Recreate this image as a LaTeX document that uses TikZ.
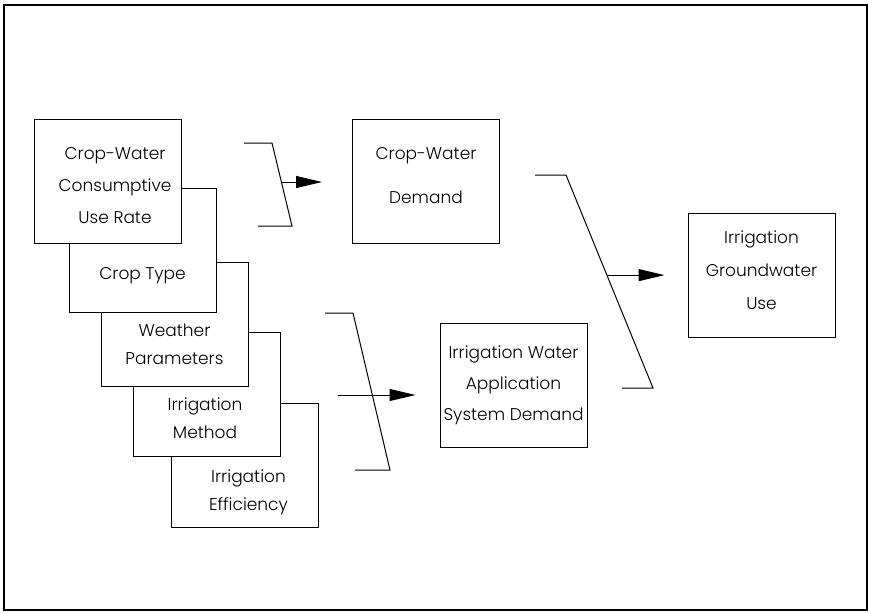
\documentclass[tikz,border=0pt]{standalone}
\usepackage{fontspec}
\setmainfont{Poppins Light}
\usetikzlibrary{arrows.meta}

\begin{document}
\begin{tikzpicture}[
    x=0.5pt, y=-0.5pt,
    card/.style={rectangle, draw, fill=white, line width=0.5pt, minimum width=73.5pt, minimum height=62pt, inner sep=0pt, align=center, font=\fontsize{8.5}{15.5}\selectfont},
    cardtext/.style={align=center, font=\fontsize{8.5}{14}\selectfont},
    bracket/.style={line width=0.5pt},
    arrow/.style={-{Triangle[length=13pt, width=6pt]}, line width=0.5pt},
    frame/.style={line width=1.4pt}
]
\useasboundingbox (0,0) rectangle (869,612);
\draw[frame] (4,5) rectangle (867,610);
% stacked input cards, back to front
\node[card, label={[cardtext, xshift=2pt, yshift=-13.5pt]center:Irrigation\\Efficiency}] (effic) at (244.5,465.5) {};
\node[card, label={[cardtext, xshift=-1pt, yshift=-12pt]center:Irrigation\\Method}] (method) at (207,394) {};
\node[card, label={[cardtext, yshift=-10pt]center:Weather\\Parameters}] (weather) at (174.5,324) {};
\node[card, label={[cardtext, yshift=-12.75pt]center:Crop Type}] (croptype) at (142.5,250.5) {};
\node[card, font=\fontsize{8.5}{16}\selectfont, label={[cardtext, font=\fontsize{8.5}{16}\selectfont, xshift=3.5pt, yshift=-2pt]center:Crop-Water\\Consumptive\\Use Rate}] (userate) at (108,181.5) {};
% demand and result cards
\node[card, label={[cardtext, font=\fontsize{8.5}{22}\selectfont, yshift=2.5pt]center:Crop-Water\\Demand}] (cwdemand) at (426,181) {};
\node[card] (iwdemand) at (513.5,385) {Irrigation Water\\Application\\System Demand};
\node[card, label={[cardtext, font=\fontsize{8.5}{16.5}\selectfont, yshift=2.5pt]center:Irrigation\\Groundwater\\Use}] (gwuse) at (761.5,275) {};
% brackets
\coordinate (b1a) at (244,143);\coordinate (b1b) at (272,143);
\coordinate (b1c) at (292,226);\coordinate (b1d) at (258,226);
\draw[bracket] (b1a) -- (b1b) -- (b1c) coordinate[pos=0.47] (b1m) -- (b1d);
\coordinate (b2a) at (325,313);\coordinate (b2b) at (353,313);
\coordinate (b2c) at (390,470);\coordinate (b2d) at (355,470);
\draw[bracket] (b2a) -- (b2b) -- (b2c) -- (b2d);
\coordinate (b2s) at (338,395);
\coordinate (b3a) at (535,175);\coordinate (b3b) at (566,175);
\coordinate (b3c) at (653,388);\coordinate (b3d) at (622,388);
\draw[bracket] (b3a) -- (b3b) -- (b3c) coordinate[pos=0.47] (b3m) -- (b3d);
% arrows
\draw[arrow, shorten >=15pt] (b1m) -- (b1m -| cwdemand.west);
\draw[arrow, shorten >=12pt] (b2s) -- (b2s -| iwdemand.west);
\draw[arrow, shorten >=11.5pt] (b3m) -- (b3m -| gwuse.west);
\end{tikzpicture}
\end{document}
